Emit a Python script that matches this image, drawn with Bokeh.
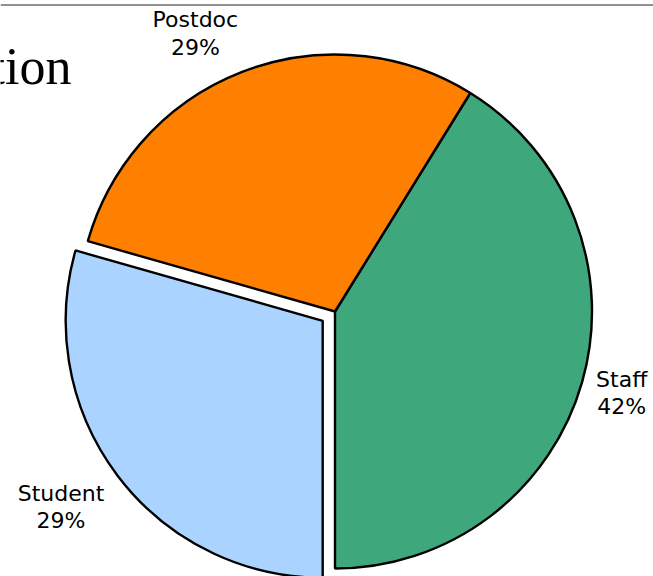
import numpy as np
from bokeh.plotting import figure
from bokeh.models import Range1d, Span
from bokeh.core.properties import value
from bokeh.embed import file_html
from bokeh.resources import INLINE

# ---- data ----
categories = ["Staff", "Postdoc", "Student"]
counts = [7, 5, 5]
pct_labels = ["42%", "29%", "29%"]
colors = ["#3fa77c", "#ff7f00", "#aad4ff"]
explode = [0.0, 0.0, 0.06]
title_text = "tion"

# ---- layout (pixels) ----
W, H = 653, 576
CX, CY, R = 334.5, 311.0, 257.0
label_dist = [1.16, 1.21, 1.25]
label_nudge_deg = [0.0, 5.5, -1.6]


def px(x, y):
    return (x - CX) / R, (CY - y) / R


p = figure(width=W, height=H, output_backend="svg", toolbar_location=None,
           x_range=Range1d(-CX / R, (W - CX) / R),
           y_range=Range1d(-(H - CY) / R, CY / R),
           x_axis_type=None, y_axis_type=None, min_border=0)
p.outline_line_color = None
p.background_fill_color = "white"
p.border_fill_color = "white"

total = float(sum(counts))
start = -np.pi / 2
for cat, c, pct, col, ex, ld, nd in zip(categories, counts, pct_labels, colors,
                                        explode, label_dist, label_nudge_deg):
    end = start + c / total * 2 * np.pi
    mid = (start + end) / 2
    ox, oy = ex * np.cos(mid), ex * np.sin(mid)
    p.wedge(x=[ox], y=[oy], radius=1.0, start_angle=start, end_angle=end,
            fill_color=col, line_color="black", line_width=2.4)
    la = mid + np.deg2rad(nd)
    p.text(x=[ox + ld * np.cos(la)], y=[oy + ld * np.sin(la)],
           text=[f"{cat}\n{pct}"], text_align="center", text_baseline="middle",
           text_font=value("DejaVu Sans"), text_font_size="22px",
           text_line_height=1.1, text_color="black")
    start = end

tx, ty = px(71, 66)
p.text(x=[tx], y=[ty], text=[title_text], text_align="right",
       text_baseline="middle", text_font=value("Liberation Serif"),
       text_font_size="52px", text_color="black")

p.add_layout(Span(location=px(0, 4.5)[1], dimension="width",
                  line_color="#222222", line_width=1))

open("out.html", "w").write(file_html(p, INLINE))
